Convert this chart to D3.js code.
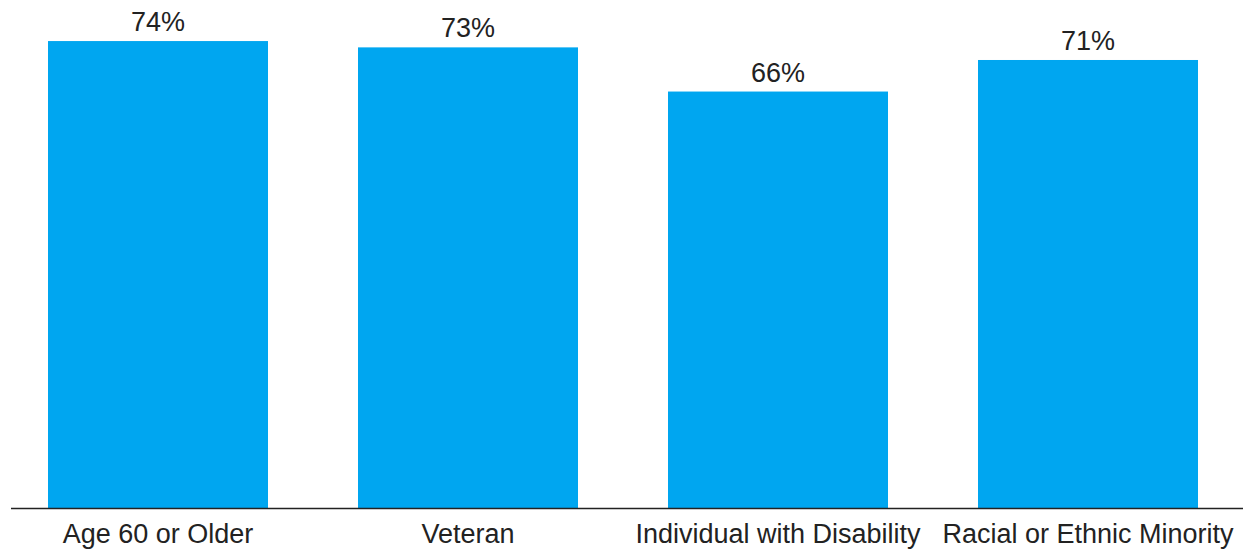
<!DOCTYPE html>
<html><head><meta charset="utf-8">
<script src="https://cdn.jsdelivr.net/npm/d3@7"></script>
<style>body{margin:0;background:#fff}svg{display:block}</style>
</head><body>
<svg id="c" width="1248" height="550"></svg>
<script>
const categories = ["Age 60 or Older", "Veteran", "Individual with Disability", "Racial or Ethnic Minority"];
const values = [74, 73, 66, 71];
const valueLabels = ["74%", "73%", "66%", "71%"];

const svg = d3.select("#c");
const baseY = 508;
const x = d3.scaleBand().domain(categories).range([3, 1243]).paddingInner(0.29032).paddingOuter(0.14516);
const y = d3.scaleLinear().domain([0, 100]).range([baseY, baseY - 631]);

svg.selectAll("rect.bar").data(values).join("rect")
  .attr("class", "bar")
  .attr("x", (d, i) => x(categories[i]))
  .attr("width", x.bandwidth())
  .attr("y", d => y(d))
  .attr("height", d => baseY - y(d))
  .attr("fill", "#00a6f0");

svg.selectAll("text.val").data(values).join("text")
  .attr("class", "val")
  .attr("x", (d, i) => x(categories[i]) + x.bandwidth() / 2)
  .attr("y", d => y(d) - 10)
  .attr("text-anchor", "middle")
  .attr("font-family", "Liberation Sans, Arial, sans-serif")
  .attr("font-size", 27)
  .attr("fill", "#222")
  .text((d, i) => valueLabels[i]);

const axis = d3.axisBottom(x).tickSize(0).tickPadding(16);
const g = svg.append("g").attr("transform", `translate(0,${baseY})`).call(axis);
g.select(".domain").attr("d", "M11,0.5H1243").attr("stroke", "#222").attr("stroke-width", 1.5);
g.selectAll(".tick text").attr("font-family", "Liberation Sans, Arial, sans-serif").attr("font-size", 27).attr("fill", "#222");
</script>
</body></html>
